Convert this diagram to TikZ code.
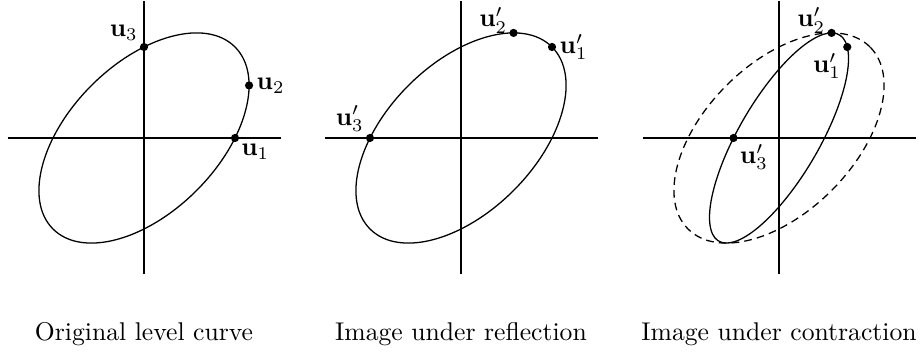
\documentclass[tikz,border=0pt]{standalone}
\usetikzlibrary{positioning}
\tikzset{
  axis/.style={draw=black,line width=0.5pt},
  levelcurve/.style={draw=black,line width=0.5pt},
  oldcurve/.style={draw=black,line width=0.5pt,dash pattern=on 3pt off 2pt},
  ptdot/.style={circle,fill=black,inner sep=0pt,minimum size=3.2pt},
  ptlabel/.style={inner sep=1pt,font=\normalsize},
  caption/.style={anchor=base,font=\normalsize}
}
\newcommand{\vu}[1]{$\mathbf{u}_{#1}$}
\newcommand{\vup}[1]{$\mathbf{u}'_{#1}$}

\begin{document}
\begin{tikzpicture}[x=0.39pt,y=0.39pt,node distance=0pt and 0pt]
  \useasboundingbox (0,0) rectangle (923,354);
  % original level curve
  \begin{scope}[shift={(144,216)},scale=91]
    \draw[axis] (-1.5,0) -- (1.5,0);
    \draw[axis] (0,-1.5) -- (0,1.5);
    \draw[levelcurve,rotate=45] (0,0) ellipse ({sqrt(2)} and {sqrt(2/3)});
    \node[ptdot] (a1) at (1,0) {};
    \node[ptdot] (a2) at (1.1547,0.5774) {};
    \node[ptdot] (a3) at (0,1) {};
    \node[ptlabel,below right=of a1] (a1lbl) {\vu{1}};
    \node[ptlabel,right=of a2] (a2lbl) {\vu{2}};
    \node[ptlabel,above left=of a3] (a3lbl) {\vu{3}};
  \end{scope}
  % image under reflection
  \begin{scope}[shift={(461,216)},scale=91]
    \draw[axis] (-1.5,0) -- (1.5,0);
    \draw[axis] (0,-1.5) -- (0,1.5);
    \draw[levelcurve,rotate=45] (0,0) ellipse ({sqrt(2)} and {sqrt(2/3)});
    \node[ptdot] (b1) at (1,1) {};
    \node[ptdot] (b2) at (0.5774,1.1547) {};
    \node[ptdot] (b3) at (-1,0) {};
    \node[ptlabel,right=of b1] (b1lbl) {\vup{1}};
    \node[ptlabel,above left=-2.5pt and 0pt of b2] (b2lbl) {\vup{2}};
    \node[ptlabel,above left=of b3] (b3lbl) {\vup{3}};
  \end{scope}
  % image under contraction
  \begin{scope}[shift={(779,216)},scale=91]
    \draw[axis] (-1.5,0) -- (1.5,0);
    \draw[axis] (0,-1.5) -- (0,1.5);
    \draw[oldcurve,rotate=45] (0,0) ellipse ({sqrt(2)} and {sqrt(2/3)});
    \draw[levelcurve,cm={0.5,0,0.25,1,(0,0)},rotate=45] (0,0) ellipse ({sqrt(2)} and {sqrt(2/3)});
    \node[ptdot] (c1) at (0.75,1) {};
    \node[ptdot] (c2) at (0.5774,1.1547) {};
    \node[ptdot] (c3) at (-0.5,0) {};
    \node[ptlabel,below left=of c1] (c1lbl) {\vup{1}};
    \node[ptlabel,above left=-2.5pt and 0pt of c2] (c2lbl) {\vup{2}};
    \node[ptlabel,below right=of c3] (c3lbl) {\vup{3}};
  \end{scope}
  \node[caption] (cap1) at (144,13) {Original level curve};
  \node[caption] (cap2) at (461,13) {Image under reflection};
  \node[caption] (cap3) at (779,13) {Image under contraction};
\end{tikzpicture}
\end{document}
